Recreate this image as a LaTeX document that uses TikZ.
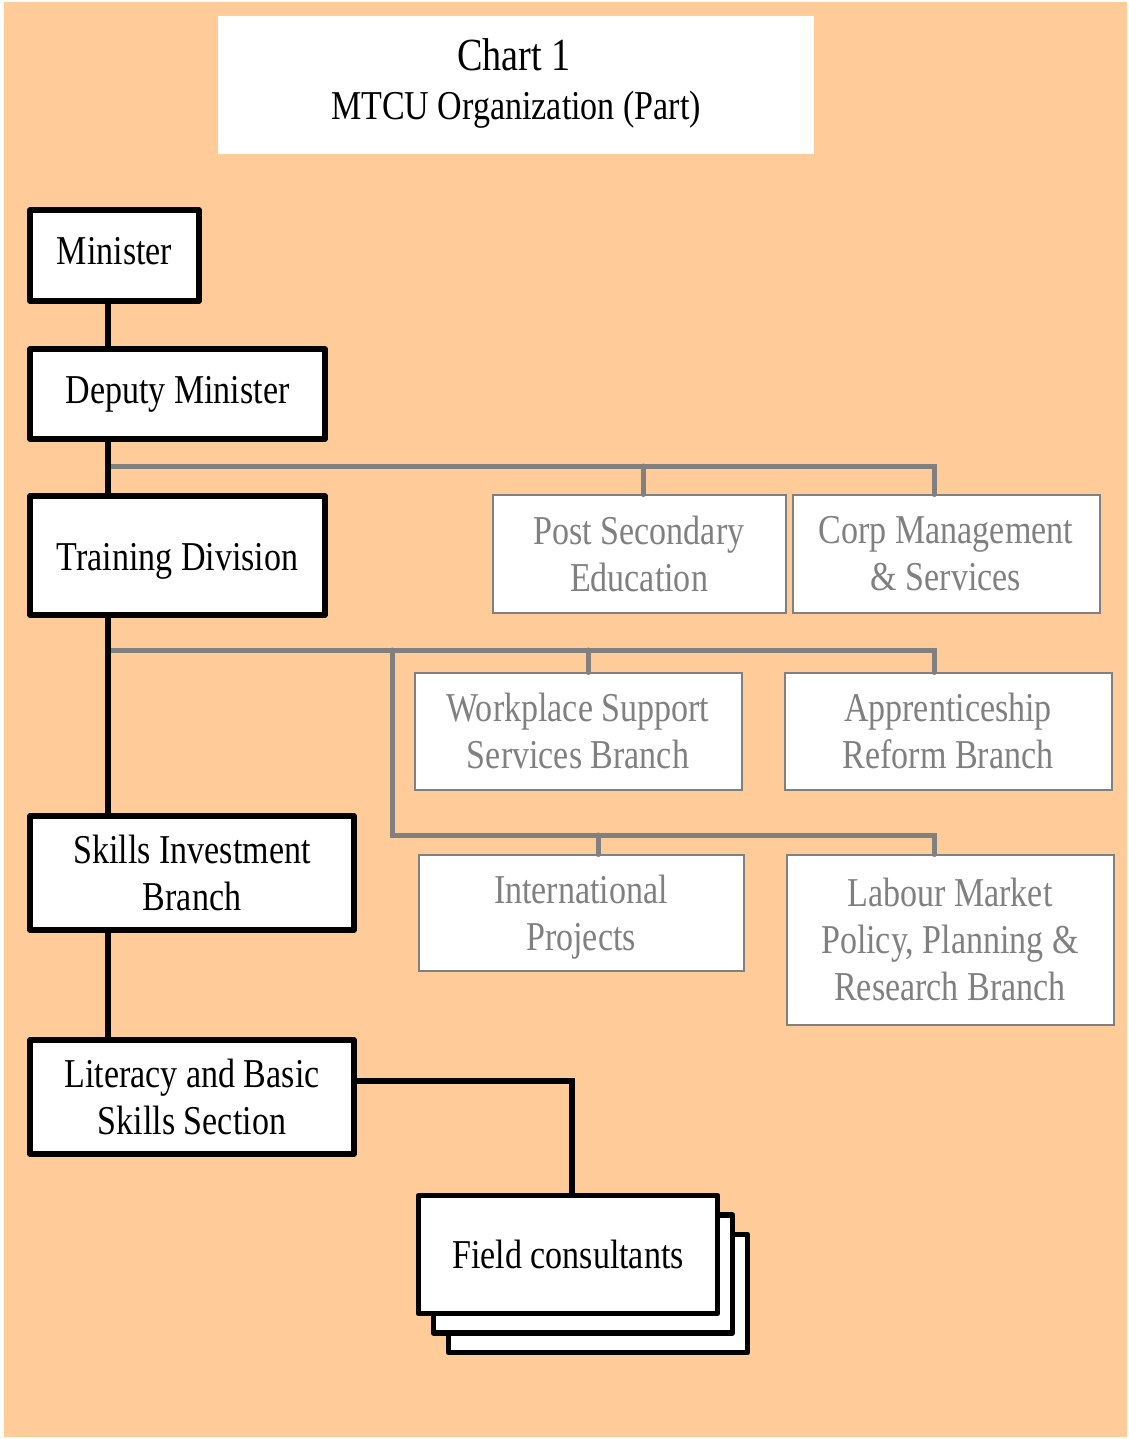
\documentclass[tikz,border=0pt]{standalone}
\usepackage{fontspec}
\setmainfont[FakeStretch=0.83]{Liberation Serif}
\definecolor{peach}{RGB}{255,203,153}
\definecolor{midgray}{RGB}{128,128,128}
\begin{document}
\begin{tikzpicture}[x=1pt,y=-1pt,
  every node/.style={inner sep=0pt,outer sep=0pt,align=center,
    font=\fontsize{41}{47}\selectfont},
  mainbox/.style={draw=black,fill=white,line width=5.5pt,line join=round},
  sidebox/.style={draw=midgray,fill=white,line width=2pt,text=midgray},
  spineline/.style={draw=black,line width=5.5pt},
  busline/.style={draw=midgray,line width=5pt,line cap=round,line join=miter}]

% page and background
\fill[white] (0,0) rectangle (1128,1439);
\fill[peach] (4,2) rectangle (1127,1437);
\useasboundingbox (0,0) rectangle (1128,1439);

% title panel
\node[fill=white,minimum width=596pt,minimum height=138pt] (title) at (516,85) {};
\node (titleA) at (514,55) {\fontsize{46}{52}\selectfont Chart 1};
\node (titleB) at (516,110) {MTCU Organization (Part)};

% main chain
\node[mainbox,minimum width=169pt,minimum height=91pt,text depth=10pt] (minister) at (114.5,255.5) {Minister};
\node[mainbox,minimum width=295pt,minimum height=90pt] (deputy) at (177.5,394) {Deputy Minister};
\node[mainbox,minimum width=295pt,minimum height=119pt,text height=29pt,text depth=0pt] (training) at (177.5,555.5) {Training Division};
\node[mainbox,minimum width=324pt,minimum height=114pt] (skills) at (192,873) {Skills Investment\\Branch};
\node[mainbox,minimum width=324pt,minimum height=114pt] (literacy) at (192,1097) {Literacy and Basic\\Skills Section};

% side units
\node[sidebox,minimum width=293pt,minimum height=118pt] (pse) at (639,553.5) {Post Secondary\\Education};
\node[sidebox,minimum width=307pt,minimum height=118pt] (corp) at (946,553.5) {Corp Management\\\& Services};
\node[sidebox,minimum width=327pt,minimum height=117pt] (workplace) at (578,731) {Workplace Support\\Services Branch};
\node[sidebox,minimum width=327pt,minimum height=117pt] (apprent) at (948,731) {Apprenticeship\\Reform Branch};
\node[sidebox,minimum width=325pt,minimum height=116pt,text depth=-4pt] (intl) at (581,912.5) {International\\Projects};
\node[sidebox,minimum width=327pt,minimum height=170pt] (labour) at (950,939.5) {Labour Market\\Policy, Planning \&\\Research Branch};

% gray reporting buses
\coordinate (spine) at (108,0);
\coordinate (busA) at (108,466);
\coordinate (busAend) at (934,466);
\coordinate (dropPse) at (643,466);
\draw[busline] (busA) -- (busAend) -- (busAend |- corp.north);
\draw[busline] (dropPse) -- (dropPse |- pse.north);

\coordinate (busB) at (108,650);
\coordinate (busBend) at (934,650);
\coordinate (dropWork) at (588,650);
\coordinate (busC) at (392,650);
\coordinate (busCturn) at (392,835);
\coordinate (busCend) at (934,835);
\coordinate (dropIntl) at (598,835);
\draw[busline] (busB) -- (busBend) -- (busBend |- apprent.north);
\draw[busline] (dropWork) -- (dropWork |- workplace.north);
\draw[busline] (busC) -- (busCturn) -- (busCend) -- (busCend |- labour.north);
\draw[busline] (dropIntl) -- (dropIntl |- intl.north);

% black chain of command
\draw[spineline] (minister.south -| spine) -- (deputy.north -| spine);
\draw[spineline] (deputy.south -| spine) -- (training.north -| spine);
\draw[spineline] (training.south -| spine) -- (skills.north -| spine);
\draw[spineline] (skills.south -| spine) -- (literacy.north -| spine);

% field consultants stack
\node[mainbox,minimum width=299pt,minimum height=118pt] (field3) at (598,1293.5) {};
\node[mainbox,minimum width=299pt,minimum height=118pt] (field2) at (583,1274) {};
\node[mainbox,minimum width=299pt,minimum height=118pt] (field) at (568,1254.5) {Field consultants};

\coordinate (litOut) at (354,1081);
\coordinate (fieldIn) at (572,1195.5);
\draw[spineline] (literacy.east |- litOut) -| (fieldIn);
\end{tikzpicture}
\end{document}
